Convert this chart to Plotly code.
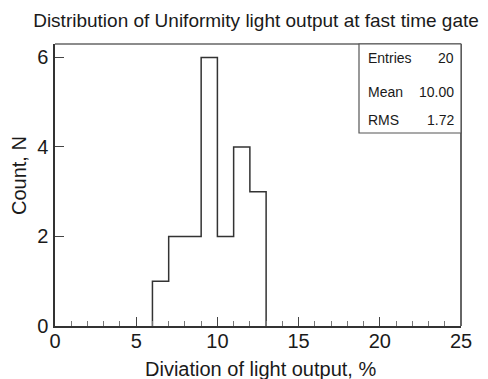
import plotly.graph_objects as go

# Histogram data (bin width 1)
bin_edges = [6, 7, 8, 9, 10, 11, 12, 13]
counts = [1, 2, 2, 6, 2, 4, 3]

x_ticks = [0, 5, 10, 15, 20, 25]
y_ticks = [0, 2, 4, 6]

stat_names = ["Entries", "Mean", "RMS"]
stat_values = ["20", "10.00", "1.72"]

title_text = "Distribution of Uniformity light output at fast time gate"
x_title = "Diviation of light output, %"
y_title = "Count, N"

# step outline built from the bin edges and counts
xs = [bin_edges[0]] + bin_edges
ys = [0] + counts + [0]

FONT = "Liberation Sans, Arial, sans-serif"
W, H = 488, 379
L, R, T, B = 55, 27, 44, 53
pw, ph = W - L - R, H - T - B

def px_x(p):
    return (p - L) / pw

def px_y(p):
    return (H - B - p) / ph

fig = go.Figure()
fig.add_trace(go.Scatter(
    x=xs, y=ys, mode="lines", line=dict(shape="hv", color="#333333", width=1.5),
    hoverinfo="skip", showlegend=False,
))

fig.update_layout(
    width=W, height=H,
    margin=dict(l=L, r=R, t=T, b=B),
    plot_bgcolor="white", paper_bgcolor="white",
    font=dict(family=FONT, color="#1a1a1a"),
    title=dict(text=title_text, x=256 / W, xanchor="center", y=1 - 20 / H, yanchor="middle",
               font=dict(size=19, family=FONT, color="#1a1a1a")),
    xaxis=dict(range=[0, 25], tickvals=x_ticks, ticks="inside", ticklen=9, tickwidth=1.2,
               tickcolor="#444", showline=True, linecolor="#333", linewidth=1.5,
               showgrid=False, zeroline=False, tickfont=dict(size=20),
               ticklabelstandoff=-4,
               minor=dict(dtick=1, ticks="inside", ticklen=5, tickcolor="#777", tickwidth=1)),
    yaxis=dict(range=[0, 6.3], tickvals=y_ticks, ticks="inside", ticklen=9, tickwidth=1.2,
               tickcolor="#444", showline=True, linecolor="#333", linewidth=1.5,
               showgrid=False, zeroline=False, tickfont=dict(size=20),
               ticklabelstandoff=1),
    showlegend=False,
)

# frame: top and right
fig.add_shape(type="line", xref="paper", yref="paper", x0=0, x1=1, y0=1, y1=1,
              line=dict(color="#666", width=1.5))
fig.add_shape(type="line", xref="paper", yref="paper", x0=1, x1=1, y0=0, y1=1,
              line=dict(color="#333", width=1.5))

# stats box
fig.add_shape(type="rect", xref="paper", yref="paper",
              x0=px_x(359), x1=1, y0=px_y(133), y1=1,
              line=dict(color="#555", width=1.2), fillcolor="white")

stat_ys = [58, 92, 120]
for name, val, yy in zip(stat_names, stat_values, stat_ys):
    fig.add_annotation(text=name, xref="paper", yref="paper", x=px_x(366), y=px_y(yy),
                       xanchor="left", yanchor="middle", showarrow=False,
                       font=dict(size=14, family=FONT, color="#1a1a1a"))
    fig.add_annotation(text=val, xref="paper", yref="paper", x=px_x(456), y=px_y(yy),
                       xanchor="right", yanchor="middle", showarrow=False,
                       font=dict(size=14, family=FONT, color="#1a1a1a"))

# axis titles
fig.add_annotation(text=x_title, xref="paper", yref="paper", x=px_x(260), y=px_y(369),
                   xanchor="center", yanchor="middle", showarrow=False,
                   font=dict(size=20, family=FONT, color="#1a1a1a"))
fig.add_annotation(text=y_title, xref="paper", yref="paper", x=px_x(19), y=px_y(176),
                   xanchor="center", yanchor="middle", textangle=-90, showarrow=False,
                   font=dict(size=20, family=FONT, color="#1a1a1a"))

fig.write_html("out.html", config={"displayModeBar": False},
               post_script="document.body.style.margin='0';document.body.style.overflow='hidden';")
